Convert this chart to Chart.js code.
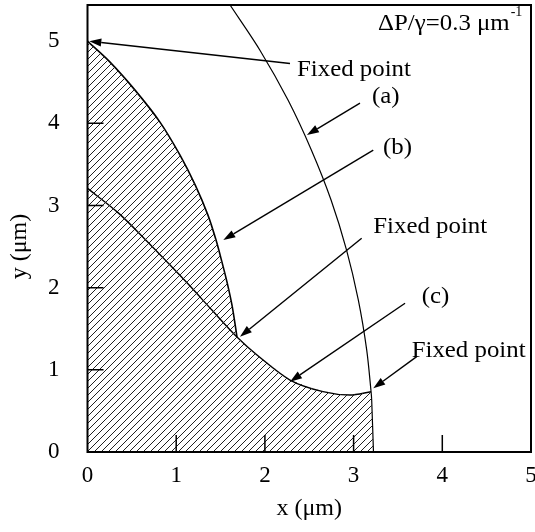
<!DOCTYPE html>
<html>
<head>
<meta charset="utf-8">
<script src="https://cdn.jsdelivr.net/npm/chart.js@4.4.1/dist/chart.umd.min.js"></script>
<style>
  html, body { margin: 0; padding: 0; background: #fff; }
</style>
</head>
<body>
<canvas id="myChart" width="535" height="532"></canvas>
<script>
// curva (a)
let curvaAx = [1.607, 1.944, 2.262, 2.526, 2.745, 2.920, 3.053, 3.148, 3.197, 3.204, 3.224];
let curvaAy = [5.44, 4.89, 4.28, 3.67, 3.07, 2.46, 1.85, 1.24, 0.734, 0.63, 0];

// curva (b)
let curvaBx = [0, 0.254, 0.536, 0.817, 1.043, 1.215, 1.358, 1.449, 1.516, 1.573, 1.629, 1.674, 1.685];
let curvaBy = [5.0, 4.745, 4.404, 4.015, 3.613, 3.248, 2.883, 2.579, 2.311, 2.068, 1.788, 1.484, 1.399];

// curva (c)
let curvaCx = [0, 0.347, 0.648, 0.90, 1.156, 1.40, 1.685, 1.911, 2.283, 2.655, 2.959, 3.197];
let curvaCy = [3.208, 2.91, 2.59, 2.31, 2.02, 1.73, 1.399, 1.180, 0.876, 0.734, 0.693, 0.734];

let ticksX = [0, 1, 2, 3, 4, 5];
let ticksY = [0, 1, 2, 3, 4, 5];

// textos y flechas (en unidades del grafico)
let textos = ["Fixed point", "(a)", "(b)", "Fixed point", "(c)", "Fixed point"];
let textoX = [2.362, 3.207, 3.332, 3.222, 3.768, 3.655];
let textoY = [4.576, 4.247, 3.627, 2.662, 1.817, 1.160];

let flechaDesdeX = [2.283, 3.072, 3.222, 3.091, 3.580, 3.711];
let flechaDesdeY = [4.728, 4.247, 3.675, 2.601, 1.810, 1.160];
let flechaHastaX = [0.02, 2.474, 1.531, 1.719, 2.283, 3.222];
let flechaHastaY = [5.0, 3.858, 2.580, 1.403, 0.856, 0.775];

let formula = "ΔP/γ=0.3 μm";
let formulaX = 3.276;
let formulaY = 5.136;

function puntos(xs, ys) {
  return xs.map((x, i) => ({ x: x, y: ys[i] }));
}

// zona rayada: (b) hasta la union, luego (c), luego el final de (a)
function armarZona() {
  let zona = puntos(curvaBx, curvaBy);
  let union = curvaCx.indexOf(curvaBx[curvaBx.length - 1]);
  for (let i = union + 1; i < curvaCx.length; i++) {
    zona.push({ x: curvaCx[i], y: curvaCy[i] });
  }
  let ultimo = curvaCy[curvaCy.length - 1];
  for (let i = 0; i < curvaAx.length; i++) {
    if (curvaAy[i] < ultimo) zona.push({ x: curvaAx[i], y: curvaAy[i] });
  }
  return zona;
}

function crearTrama() {
  let c = document.createElement("canvas");
  c.width = 7;
  c.height = 7;
  let ctx = c.getContext("2d");
  ctx.strokeStyle = "#222";
  ctx.lineWidth = 1;
  ctx.beginPath();
  ctx.moveTo(-1, 8); ctx.lineTo(8, -1);
  ctx.moveTo(-1, 1); ctx.lineTo(1, -1);
  ctx.moveTo(6, 8); ctx.lineTo(8, 6);
  ctx.stroke();
  return ctx.createPattern(c, "repeat");
}

let fuente = "Liberation Serif";

function textoAncho(ctx, texto, x, y) {
  ctx.save();
  ctx.translate(x, y);
  ctx.scale(1.08, 1);
  ctx.fillText(texto, 0, 0);
  ctx.restore();
  return ctx.measureText(texto).width * 1.08;
}

function flecha(ctx, x1, y1, x2, y2) {
  let ang = Math.atan2(y2 - y1, x2 - x1);
  let largo = 12, ancho = 4;
  let bx = x2 - largo * Math.cos(ang);
  let by = y2 - largo * Math.sin(ang);
  ctx.beginPath();
  ctx.moveTo(x1, y1);
  ctx.lineTo(bx, by);
  ctx.stroke();
  ctx.beginPath();
  ctx.moveTo(x2, y2);
  ctx.lineTo(bx + ancho * Math.sin(ang), by - ancho * Math.cos(ang));
  ctx.lineTo(bx - ancho * Math.sin(ang), by + ancho * Math.cos(ang));
  ctx.closePath();
  ctx.fill();
}

let anotaciones = {
  id: "anotaciones",
  afterDatasetsDraw(chart) {
    let { ctx, chartArea: a, scales } = chart;
    let sx = scales.x, sy = scales.y;
    ctx.save();
    ctx.strokeStyle = "#000";
    ctx.fillStyle = "#000";

    // marco
    ctx.lineWidth = 2;
    ctx.strokeRect(a.left, a.top, a.right - a.left, a.bottom - a.top);

    // marcas hacia adentro
    ctx.lineWidth = 1.5;
    ctx.beginPath();
    ticksX.forEach((v) => {
      if (v > 0 && v < 5) {
        let px = sx.getPixelForValue(v);
        ctx.moveTo(px, a.bottom);
        ctx.lineTo(px, a.bottom - 17);
      }
    });
    ticksY.forEach((v) => {
      if (v > 0 && v < 5) {
        let py = sy.getPixelForValue(v);
        ctx.moveTo(a.left, py);
        ctx.lineTo(a.left + 16, py);
      }
    });
    ctx.stroke();

    // flechas
    ctx.lineWidth = 1.4;
    for (let i = 0; i < flechaDesdeX.length; i++) {
      flecha(ctx,
        sx.getPixelForValue(flechaDesdeX[i]), sy.getPixelForValue(flechaDesdeY[i]),
        sx.getPixelForValue(flechaHastaX[i]), sy.getPixelForValue(flechaHastaY[i]));
    }

    // textos
    ctx.font = "23px '" + fuente + "'";
    ctx.textBaseline = "alphabetic";
    ctx.textAlign = "left";
    for (let i = 0; i < textos.length; i++) {
      textoAncho(ctx, textos[i], sx.getPixelForValue(textoX[i]), sy.getPixelForValue(textoY[i]));
    }
    let fx = sx.getPixelForValue(formulaX), fy = sy.getPixelForValue(formulaY);
    let w = textoAncho(ctx, formula, fx, fy);
    ctx.font = "14px '" + fuente + "'";
    ctx.fillText("-1", fx + w + 1, fy - 14);

    // titulo eje y
    ctx.font = "24px '" + fuente + "'";
    ctx.textAlign = "center";
    ctx.textBaseline = "middle";
    ctx.translate(20, sy.getPixelForValue(2.5));
    ctx.rotate(-Math.PI / 2);
    ctx.fillText("y (μm)", 0, 0);
    ctx.restore();
  }
};

let myChart = document.querySelector("#myChart");
let trama = crearTrama();

let linea = {
  showLine: true,
  fill: false,
  borderColor: "#000",
  pointRadius: 0,
  tension: 0.3
};

new Chart(myChart, {
  type: "scatter",
  data: {
    datasets: [
      {
        data: armarZona(),
        showLine: true,
        fill: "origin",
        backgroundColor: trama,
        borderColor: "rgba(0,0,0,0)",
        borderWidth: 1,
        pointRadius: 0,
        tension: 0
      },
      Object.assign({ data: puntos(curvaAx, curvaAy), borderWidth: 1.2 }, linea),
      Object.assign({ data: puntos(curvaBx, curvaBy), borderWidth: 1.6 }, linea),
      Object.assign({ data: puntos(curvaCx, curvaCy), borderWidth: 1.4 }, linea)
    ]
  },
  options: {
    responsive: false,
    animation: false,
    layout: { padding: { top: 5, right: 4, left: 0, bottom: 0 } },
    plugins: { legend: { display: false }, tooltip: { enabled: false } },
    scales: {
      x: {
        type: "linear",
        min: 0,
        max: 5,
        grid: { display: false, drawTicks: false },
        border: { display: false },
        afterBuildTicks: (s) => { s.ticks = ticksX.map((v) => ({ value: v })); },
        afterFit: (s) => { s.height = 80; s.paddingLeft = 0; s.paddingRight = 0; },
        ticks: { padding: 10, color: "#000", font: { family: fuente, size: 23 } },
        title: {
          display: true,
          text: "x (μm)",
          color: "#000",
          font: { family: fuente, size: 24 },
          padding: { top: 0, bottom: 9 }
        }
      },
      y: {
        type: "linear",
        min: 0,
        max: 5.44,
        grid: { display: false, drawTicks: false },
        border: { display: false },
        afterBuildTicks: (s) => { s.ticks = ticksY.map((v) => ({ value: v })); },
        afterFit: (s) => { s.width = 87.5; s.paddingTop = 0; s.paddingBottom = 0; },
        ticks: { padding: 28, color: "#000", font: { family: fuente, size: 23 } }
      }
    }
  },
  plugins: [anotaciones]
});
</script>
</body>
</html>
